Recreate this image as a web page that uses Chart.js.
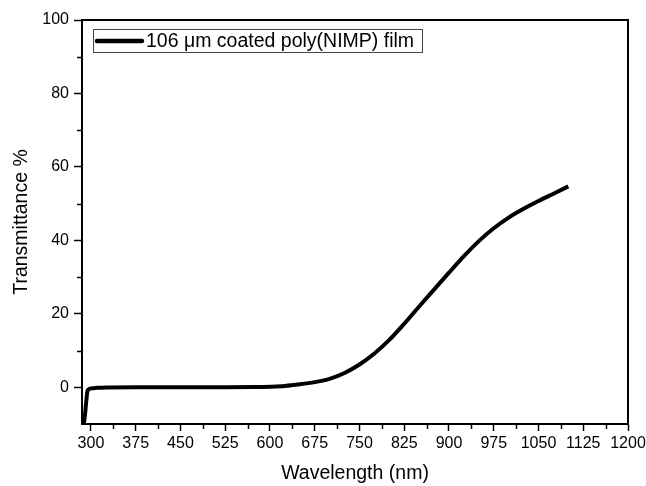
<!DOCTYPE html>
<html>
<head>
<meta charset="utf-8">
<script src="https://cdn.jsdelivr.net/npm/chart.js@4/dist/chart.umd.min.js"></script>
<style>
  body { margin: 0; background: #fff; }
  #wrap { width: 646px; height: 486px; position: relative; }
</style>
</head>
<body>
<div id="wrap"><canvas id="trans"></canvas></div>
<script>
// transmittance spectrum of the coated film
var wavelength = [288, 290, 292, 294, 296, 298, 300, 310, 330, 375, 450, 525, 575, 600, 625, 650, 675, 700, 725, 750, 775, 800, 825, 850, 875, 900, 925, 950, 975, 1000, 1025, 1050, 1075, 1100];
var transmittance = [-10, -7.5, -4, -1.2, -0.6, -0.4, -0.3, -0.15, -0.05, 0, 0, 0, 0.05, 0.15, 0.35, 0.8, 1.4, 2.3, 3.9, 6.2, 9.2, 12.9, 17.3, 22, 26.6, 31.2, 35.7, 39.8, 43.3, 46.2, 48.6, 50.7, 52.7, 54.7];
var seriesLabel = '106 \u03bcm coated poly(NIMP) film';

var xTicks = [300, 375, 450, 525, 600, 675, 750, 825, 900, 975, 1050, 1125, 1200];
var xMinor = [337.5, 412.5, 487.5, 562.5, 637.5, 712.5, 787.5, 862.5, 937.5, 1012.5, 1087.5, 1162.5];
var yTicks = [0, 20, 40, 60, 80, 100];
var yMinor = [10, 30, 50, 70, 90];

var FONT = "'Liberation Sans', Arial, sans-serif";

var points = wavelength.map(function (w, i) {
    return { x: w, y: transmittance[i] };
});

// minor ticks, closed frame and the boxed legend
var extras = {
    id: 'extras',
    afterDraw: function (chart) {
        var ctx = chart.ctx, a = chart.chartArea;
        var x = chart.scales.x, y = chart.scales.y;
        ctx.save();
        ctx.strokeStyle = '#000';
        ctx.lineWidth = 1.5;
        ctx.beginPath();
        xMinor.forEach(function (v) {
            var px = Math.round(x.getPixelForValue(v)) + 0.5;
            ctx.moveTo(px, a.bottom);
            ctx.lineTo(px, a.bottom + 5);
        });
        yMinor.forEach(function (v) {
            var py = Math.round(y.getPixelForValue(v)) + 0.5;
            ctx.moveTo(a.left, py);
            ctx.lineTo(a.left - 5, py);
        });
        ctx.stroke();

        ctx.lineWidth = 2;
        ctx.beginPath();
        ctx.moveTo(a.left, a.top);
        ctx.lineTo(a.right, a.top);
        ctx.lineTo(a.right, a.bottom);
        ctx.stroke();

        // legend
        var bx = a.left + 11, by = a.top + 9, bw = 329, bh = 23;
        ctx.lineWidth = 1;
        ctx.strokeStyle = '#444';
        ctx.strokeRect(bx + 0.5, by + 0.5, bw, bh);
        var cy = by + bh / 2 + 0.5;
        ctx.strokeStyle = '#000';
        ctx.lineWidth = 4.5;
        ctx.lineCap = 'round';
        ctx.beginPath();
        ctx.moveTo(bx + 4, cy);
        ctx.lineTo(bx + 49, cy);
        ctx.stroke();
        ctx.fillStyle = '#000';
        ctx.font = '19.5px ' + FONT;
        ctx.textBaseline = 'middle';
        ctx.fillText(seriesLabel, bx + 53, cy + 1);
        ctx.restore();
    }
};

var plainLabel = function (value) { return String(value); };

var ctx = document.getElementById('trans').getContext('2d');
var transChart = new Chart(ctx, {
    type: 'line',
    data: {
        datasets: [{
            label: seriesLabel,
            data: points,
            borderColor: '#000',
            borderWidth: 4,
            pointRadius: 0,
            cubicInterpolationMode: 'monotone',
            fill: false
        }]
    },
    options: {
        responsive: true,
        maintainAspectRatio: false,
        animation: false,
        layout: { padding: { left: 0, top: 20, right: 18, bottom: 0 } },
        plugins: {
            legend: { display: false },
            tooltip: { enabled: false }
        },
        scales: {
            x: {
                type: 'linear',
                min: 285,
                max: 1200,
                afterBuildTicks: function (scale) {
                    scale.ticks = xTicks.map(function (v) { return { value: v }; });
                },
                afterFit: function (scale) {
                    scale.height = 62;
                    scale.paddingRight = 0;
                    scale.paddingLeft = 0;
                },
                border: { display: true, color: '#000', width: 2 },
                grid: { display: true, drawOnChartArea: false, color: '#000', tickLength: 7, tickWidth: 1.5 },
                ticks: {
                    color: '#000',
                    padding: 3,
                    maxRotation: 0,
                    autoSkip: false,
                    callback: plainLabel,
                    font: { family: FONT, size: 16 }
                },
                title: {
                    display: true,
                    text: 'Wavelength (nm)',
                    color: '#000',
                    font: { family: FONT, size: 19.5 },
                    padding: { top: 0, bottom: 1 }
                }
            },
            y: {
                type: 'linear',
                min: -10,
                max: 100,
                afterBuildTicks: function (scale) {
                    scale.ticks = yTicks.map(function (v) { return { value: v }; });
                },
                afterFit: function (scale) { scale.width = 82; },
                border: { display: true, color: '#000', width: 2 },
                grid: { display: true, drawOnChartArea: false, color: '#000', tickLength: 8, tickWidth: 1.5 },
                ticks: {
                    color: '#000',
                    padding: 5,
                    autoSkip: false,
                    callback: plainLabel,
                    font: { family: FONT, size: 16 }
                },
                title: {
                    display: true,
                    text: 'Transmittance %',
                    color: '#000',
                    font: { family: FONT, size: 19.5 },
                    padding: { top: 10, bottom: 0 }
                }
            }
        }
    },
    plugins: [extras]
});
</script>
</body>
</html>
